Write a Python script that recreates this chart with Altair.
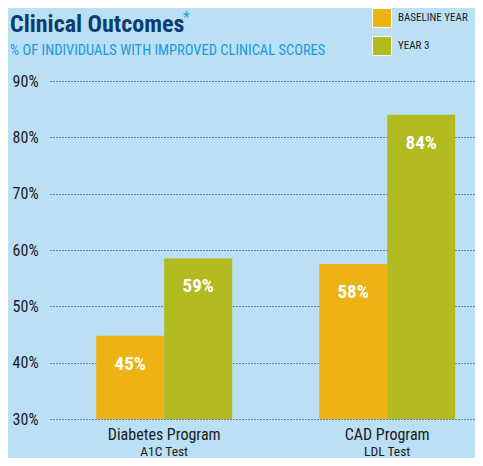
import altair as alt
import pandas as pd

programs = ["Diabetes Program", "CAD Program"]
tests = ["A1C Test", "LDL Test"]
series = ["BASELINE YEAR", "YEAR 3"]
baseline = [44.8, 57.5]
year3 = [58.5, 84.0]
baseline_labels = ["45%", "58%"]
year3_labels = ["59%", "84%"]
y_ticks = [30, 40, 50, 60, 70, 80, 90]
title_text = "Clinical Outcomes"
subtitle_text = "% OF INDIVIDUALS WITH IMPROVED CLINICAL SCORES"

rows = []
for i, p in enumerate(programs):
    rows.append({"program": p, "series": series[0], "value": baseline[i], "label": baseline_labels[i]})
    rows.append({"program": p, "series": series[1], "value": year3[i], "label": year3_labels[i]})
df = pd.DataFrame(rows)
cat_df = pd.DataFrame({"program": programs, "test": tests})

FONT = "Roboto Condensed, DejaVu Sans Condensed, Liberation Sans Narrow, Roboto, sans-serif"
BG = "#BBE0F6"
colors = ["#EDB213", "#B1BA1F"]

xscale = alt.Scale(domain=programs, paddingInner=0.39, paddingOuter=0.148, align=0.7)
yscale = alt.Scale(domain=[30, 90], nice=False, zero=False)

base = alt.Chart(df)

bars = base.mark_bar(size=68).encode(
    x=alt.X("program:N", scale=xscale, sort=programs, axis=None),
    xOffset=alt.XOffset("series:N", sort=series, scale=alt.Scale(paddingInner=0, paddingOuter=0)),
    y=alt.Y("value:Q", scale=yscale,
            axis=alt.Axis(values=y_ticks, labelExpr="datum.value + '%'", title=None,
                          grid=True, gridDash=[1, 2], gridColor="#222222", gridWidth=1,
                          domain=False, ticks=False, labelPadding=12,
                          labelFont=FONT, labelFontSize=16, labelColor="#1a1a1a")),
    y2=alt.datum(30),
    color=alt.Color("series:N", sort=series,
                    scale=alt.Scale(domain=series, range=colors),
                    legend=alt.Legend(title=None, orient="none", legendX=322, legendY=-73,
                                      symbolType="square", symbolSize=361,
                                      symbolStrokeColor="#FFFFFF", symbolStrokeWidth=1,
                                      symbolOpacity=1, rowPadding=4,
                                      labelFont=FONT, labelFontSize=11, labelColor="#1a1a1a",
                                      labelOffset=6, labelLimit=200)),
)

labels = base.mark_text(font=FONT, fontSize=19, fontWeight="bold", color="white",
                        baseline="middle", dy=28).encode(
    x=alt.X("program:N", scale=xscale, sort=programs),
    xOffset=alt.XOffset("series:N", sort=series),
    y=alt.Y("value:Q", scale=yscale),
    text="label:N",
)

cat_base = alt.Chart(cat_df)
cat1 = cat_base.mark_text(font=FONT, fontSize=16, color="#1a1a1a", baseline="middle").encode(
    x=alt.X("program:N", scale=xscale, sort=programs),
    y=alt.value(338 + 16),
    text="program:N",
)
cat2 = cat_base.mark_text(font=FONT, fontSize=13.5, color="#1a1a1a", baseline="middle").encode(
    x=alt.X("program:N", scale=xscale, sort=programs),
    y=alt.value(338 + 33),
    text="test:N",
)

head_df = pd.DataFrame({"t": [title_text], "s": [subtitle_text], "a": ["*"]})
head = alt.Chart(head_df)
title_m = head.mark_text(font=FONT, fontSize=24, fontWeight="bold", color="#0C3D6E",
                         align="left", baseline="alphabetic").encode(
    x=alt.value(-40), y=alt.value(-49), text="t:N")
sub_m = head.mark_text(font=FONT, fontSize=14.5, color="#1A9AD8",
                       align="left", baseline="alphabetic").encode(
    x=alt.value(-40), y=alt.value(-26), text="s:N")
star = head.mark_text(font=FONT, fontSize=16, color="#2AA3DC", align="left", baseline="middle").encode(
    x=alt.value(133), y=alt.value(-63), text="a:N")

chart = alt.layer(bars, labels, cat1, cat2, title_m, sub_m, star).properties(
    width=425, height=338,
    padding={"left": 42, "top": 73, "right": 0, "bottom": 39},
    autosize=alt.AutoSizeParams(type="none"),
    background=BG,
).configure_view(stroke=None)

chart.save("out.html", embed_options={"renderer": "svg", "actions": False})
